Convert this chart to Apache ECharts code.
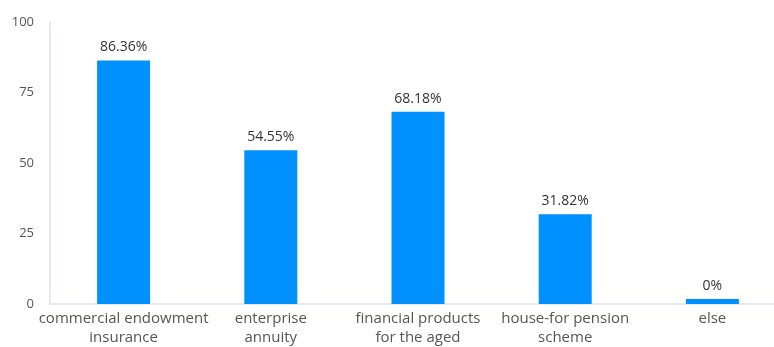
<!DOCTYPE html>
<html>
<head>
<meta charset="utf-8">
<script src="https://cdn.jsdelivr.net/npm/echarts@6/dist/echarts.min.js"></script>
<style>
  html, body { margin: 0; padding: 0; background: #fff; overflow: hidden; }
  #wrap { width: 774px; height: 347px; overflow: hidden; }
  #chart { width: 786px; height: 347px; }
</style>
</head>
<body>
<div id="wrap"><div id="chart"></div></div>
<script>
// Pension planning choices, share of respondents (%)
const categories = [
  'commercial endowment\ninsurance',
  'enterprise\nannuity',
  'financial products\nfor the aged',
  'house-for pension\nscheme',
  'else'
];
const shares = [86.36, 54.55, 68.18, 31.82, 0];
const yTicks = [0, 25, 50, 75, 100];

const font = '"Open Sans", "Noto Sans", sans-serif';
const chart = echarts.init(document.getElementById('chart'));
chart.setOption({
  animation: false,
  grid: { left: 50, right: 0, top: 22, bottom: 42 },
  xAxis: {
    type: 'category',
    data: categories,
    axisLine: { lineStyle: { color: '#dde3ee', width: 1.5 } },
    axisTick: { show: false },
    axisLabel: {
      color: '#555', fontSize: 15, fontFamily: font, margin: 5, lineHeight: 19,
      interval: 0
    }
  },
  yAxis: {
    type: 'value',
    min: yTicks[0],
    max: yTicks[yTicks.length - 1],
    interval: 25,
    axisLine: { show: true, lineStyle: { color: '#dde3ee', width: 1.5 } },
    axisTick: { show: false },
    splitLine: { show: false },
    axisLabel: { color: '#555', fontSize: 13, fontFamily: font, margin: 16 }
  },
  series: [{
    type: 'bar',
    data: shares,
    barWidth: 53,
    barMinHeight: 5,
    itemStyle: { color: '#0091ff' },
    label: {
      show: true,
      position: 'top',
      distance: 6,
      color: '#333',
      fontSize: 14,
      fontFamily: font,
      formatter: p => p.value + '%'
    }
  }]
});
</script>
</body>
</html>
